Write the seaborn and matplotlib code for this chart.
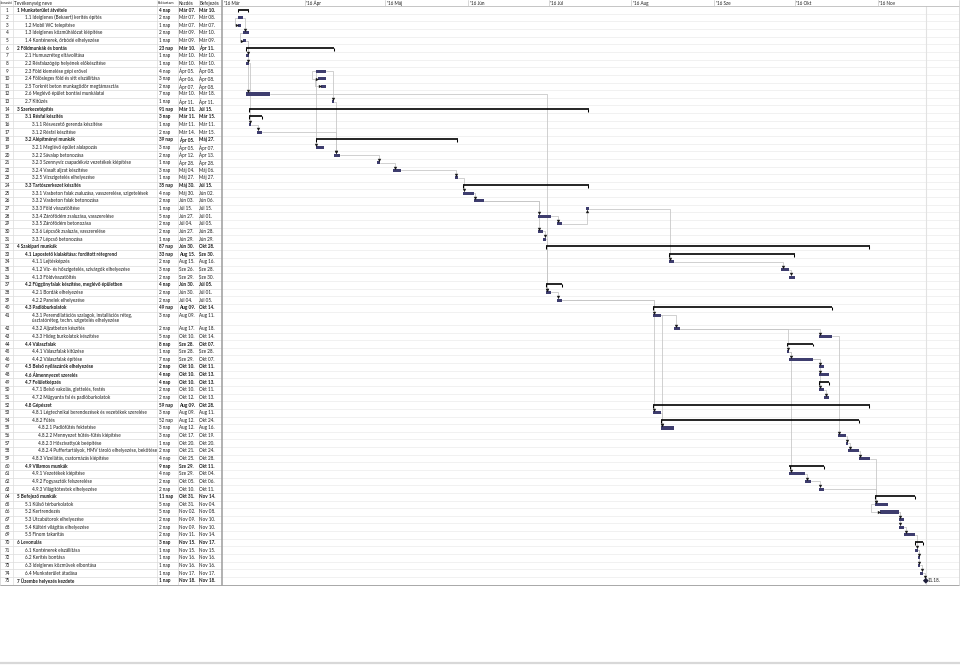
import matplotlib
matplotlib.use("Agg")
import matplotlib.pyplot as plt
import matplotlib.dates as mdates
import numpy as np
import pandas as pd
import seaborn as sns

sns.set_theme(style="white")
plt.rcParams['font.family'] = ['Lato', 'DejaVu Sans']

# ------------------------------------------------------------------ data
task_ids = list(range(1, 76))
task_names = [
    "1 Munkaterület átvétele",
    "1.1 Ideiglenes (Bekaert) kerítés építés",
    "1.2 Mobil WC telepítése",
    "1.3 Ideiglenes közműhálózat kiépítése",
    "1.4 Konténerek, őrbódé elhelyezése",
    "2 Földmunkák és bontás",
    "2.1 Humuszréteg eltávolítása",
    "2.2 Résfalazógép helyének előkészítése",
    "2.3 Föld kiemelése gépi erővel",
    "2.4 Fölösleges föld és sitt elszállítása",
    "2.5 Torkrét beton munkagödör megtámasztás",
    "2.6 Meglévő épület bontási munkálatai",
    "2.7 Kitűzés",
    "3 Szerkezetépítés",
    "3.1 Résfal készítés",
    "3.1.1 Résvezető gerenda készítése",
    "3.1.2 Résfal készítése",
    "3.2 Alépítményi munkák",
    "3.2.1 Meglévő épület alalapozás",
    "3.2.2 Sávalap betonozása",
    "3.2.3 Szennyvíz csapadékvíz vezetékek kiépítése",
    "3.2.4 Vasalt aljzat készítése",
    "3.2.5 Vízszigetelés elhelyezése",
    "3.3 Tartószerkezet készítés",
    "3.3.1 Vasbeton falak zsaluzása, vasszerelése, szigetelések",
    "3.3.2 Vasbeton falak betonozása",
    "3.3.3 Föld visszatöltése",
    "3.3.4 Zárófödém zsaluzása, vasszerelése",
    "3.3.5 Zárófödém betonozása",
    "3.3.6 Lépcsők zsaluzás, vasszerelése",
    "3.3.7 Lépcső betonozása",
    "4 Szakipari munkák",
    "4.1 Lapostető kialakítása: fordított rétegrend",
    "4.1.1 Lejtésképzés",
    "4.1.2 Víz- és hőszigetelés, szivárgók elhelyezése",
    "4.1.3 Földvisszatöltés",
    "4.2 Függönyfalak készítése, meglévő épületben",
    "4.2.1 Bordák elhelyezése",
    "4.2.2 Panelek elhelyezése",
    "4.3 Padlóburkolatok",
    "4.3.1 Peremdilatációs szalagok, installációs réteg,\núsztatóréteg, techn. szigetelés elhelyezése",
    "4.3.2 Aljzatbeton készítés",
    "4.3.3 Hideg burkolatok készítése",
    "4.4 Válaszfalak",
    "4.4.1 Válaszfalak kitűzése",
    "4.4.2 Válaszfalak építése",
    "4.5 Belső nyílászárók elhelyezése",
    "4.6 Álmennyezet szerelés",
    "4.7 Felületképzés",
    "4.7.1 Belső vakolás, glettelés, festés",
    "4.7.2 Műgyanta fal és padlóburkolatok",
    "4.8 Gépészet",
    "4.8.1 Légtechnikai berendezések és vezetékek szerelése",
    "4.8.2 Fűtés",
    "4.8.2.1 Padlófűtés fektetése",
    "4.8.2.2 Mennyezet hűtés-fűtés kiépítése",
    "4.8.2.3 Hőszivattyúk beépítése",
    "4.8.2.4 Puffertartályok, HMV tároló elhelyezése, bekötése",
    "4.8.3 Vízellátás, csatornázás kiépítése",
    "4.9 Villamos munkák",
    "4.9.1 Vezetékek kiépítése",
    "4.9.2 Fogyasztók felszerelése",
    "4.9.3 Világítótestek elhelyezése",
    "5 Befejező munkák",
    "5.1 Külső térburkolatok",
    "5.2 Kertrendezés",
    "5.3 Utcabútorok elhelyezése",
    "5.4 Kültéri világítás elhelyezése",
    "5.5 Finom takarítás",
    "6 Levonulás",
    "6.1 Konténerek elszállítása",
    "6.2 Kerítés bontása",
    "6.3 Ideiglenes közművek elbontása",
    "6.4 Munkaterület átadása",
    "7 Üzembe helyezés kezdete",
]
task_levels = [0, 1, 1, 1, 1, 0, 1, 1, 1, 1, 1, 1, 1, 0, 1, 2, 2, 1, 2, 2,
               2, 2, 2, 1, 2, 2, 2, 2, 2, 2, 2, 0, 1, 2, 2, 2, 1, 2, 2, 1,
               2, 2, 2, 1, 2, 2, 1, 1, 1, 2, 2, 1, 2, 2, 3, 3, 3, 3, 2, 1,
               2, 2, 2, 0, 1, 1, 1, 1, 1, 0, 1, 1, 1, 1, 0]
durations_days = [4, 2, 1, 2, 1, 23, 1, 1, 4, 3, 2, 7, 1, 91, 3, 1, 2, 39, 3, 2,
                  1, 3, 1, 35, 4, 2, 1, 5, 2, 2, 1, 87, 33, 2, 3, 2, 4, 2, 2, 49,
                  3, 2, 5, 8, 1, 7, 2, 4, 4, 2, 2, 59, 3, 52, 3, 3, 1, 2, 4, 9,
                  4, 2, 2, 11, 5, 5, 2, 2, 2, 3, 1, 1, 1, 1, 1]
start_dates = [
    "03-07", "03-07", "03-07", "03-09", "03-09", "03-10", "03-10", "03-10", "04-05", "04-06",
    "04-07", "03-10", "04-11", "03-11", "03-11", "03-11", "03-14", "04-05", "04-05", "04-12",
    "04-28", "05-04", "05-27", "05-30", "05-30", "06-03", "07-15", "06-27", "07-04", "06-27",
    "06-29", "06-30", "08-15", "08-15", "09-26", "09-29", "06-30", "06-30", "07-04", "08-09",
    "08-09", "08-17", "10-10", "09-28", "09-28", "09-29", "10-10", "10-10", "10-10", "10-10",
    "10-12", "08-09", "08-09", "08-12", "08-12", "10-17", "10-20", "10-21", "10-25", "09-29",
    "09-29", "10-05", "10-10", "10-31", "10-31", "11-02", "11-09", "11-09", "11-11", "11-15",
    "11-15", "11-16", "11-16", "11-17", "11-18"]
end_dates = [
    "03-10", "03-08", "03-07", "03-10", "03-09", "04-11", "03-10", "03-10", "04-08", "04-08",
    "04-08", "03-18", "04-11", "07-15", "03-15", "03-11", "03-15", "05-27", "04-07", "04-13",
    "04-28", "05-06", "05-27", "07-15", "06-02", "06-06", "07-15", "07-01", "07-05", "06-28",
    "06-29", "10-28", "09-30", "08-16", "09-28", "09-30", "07-05", "07-01", "07-05", "10-14",
    "08-11", "08-18", "10-14", "10-07", "09-28", "10-07", "10-11", "10-13", "10-13", "10-11",
    "10-13", "10-28", "08-11", "10-24", "08-16", "10-19", "10-20", "10-24", "10-28", "10-11",
    "10-04", "10-06", "10-11", "11-14", "11-04", "11-08", "11-10", "11-10", "11-14", "11-17",
    "11-15", "11-16", "11-16", "11-17", "11-18"]
year = 2016
bold_tasks = [1, 6, 14, 15, 18, 24, 32, 33, 37, 40, 44, 47, 48, 49, 52, 60, 64, 70, 75]
summary_tasks = [1, 6, 14, 15, 18, 24, 32, 33, 37, 40, 44, 49, 52, 54, 60, 64, 70]
milestone_tasks = [75]
double_row_tasks = [41]

fs_links = [(2, 4), (5, 7), (5, 8), (5, 12), (8, 16), (16, 17), (17, 20), (9, 13),
            (13, 20), (20, 21), (21, 22), (22, 23), (23, 25), (25, 26), (26, 28),
            (26, 30), (30, 31), (28, 29), (29, 27), (12, 38), (31, 38), (38, 39),
            (27, 34), (34, 35), (35, 36), (39, 41), (39, 53), (41, 42), (41, 55),
            (53, 55), (42, 43), (42, 45), (45, 46), (45, 61), (61, 62), (62, 63),
            (46, 47), (46, 48), (46, 50), (50, 51), (43, 56), (56, 57), (57, 58),
            (58, 59), (59, 65), (63, 65), (66, 67), (66, 68), (68, 69), (69, 71),
            (71, 72), (71, 73), (73, 74), (74, 75)]
ss_links = [(2, 3), (4, 5), (9, 10), (10, 11), (65, 66)]
ss_drop_links = [(9, 19)]

month_starts = ["2016-03-01", "2016-04-01", "2016-05-01", "2016-06-01", "2016-07-01",
                "2016-08-01", "2016-09-01", "2016-10-01", "2016-11-01"]
month_labels = ["'16 Már", "'16 Ápr", "'16 Máj", "'16 Jún", "'16 Júl",
                "'16 Aug", "'16 Sze", "'16 Okt", "'16 Nov"]
hu_month_abbr = ["Jan", "Feb", "Már", "Ápr", "Máj", "Jún", "Júl", "Aug", "Sze", "Okt", "Nov", "Dec"]
header_labels = ["Azonosító", "Tevékenység neve", "Időtartam", "Kezdés", "Befejezés"]
duration_unit = "nap"

# ------------------------------------------------------------------ frame
df = pd.DataFrame({
    "id": task_ids, "name": task_names, "level": task_levels, "dur": durations_days,
    "start": pd.to_datetime([f"{year}-{d}" for d in start_dates]),
    "end": pd.to_datetime([f"{year}-{d}" for d in end_dates]),
})
df["start_num"] = mdates.date2num(df["start"])
df["finish_num"] = mdates.date2num(df["end"]) + 1.0
df["start_lbl"] = [f"{hu_month_abbr[d.month - 1]} {d.day:02d}." for d in df["start"]]
df["end_lbl"] = [f"{hu_month_abbr[d.month - 1]} {d.day:02d}." for d in df["end"]]
df["dur_lbl"] = [f"{d} {duration_unit}" for d in df["dur"]]
heights = np.array([1.75 if i in double_row_tasks else 1.0 for i in task_ids])
df["top"] = np.concatenate([[0.0], np.cumsum(heights)[:-1]])
df["y"] = df["top"] + 0.5
df = df.set_index("id", drop=False)
total_rows = heights.sum()

W, H = 960, 665
HEAD, BOT = 6.2, 584.5
TABLE_R = 222
PPD = 2.676
fig = plt.figure(figsize=(9.6, 6.65), dpi=100)
fig.patch.set_facecolor("white")


def pax(x0, y0, x1, y1, **kw):
    ax = fig.add_axes([x0 / W, 1 - y1 / H, (x1 - x0) / W, (y1 - y0) / H], **kw)
    ax.set_axis_off()
    return ax


TXT = "#1a1a1a"
FSZ = 3.3
BAR = "#3e3d6e"
LINK = "#c4c4c4"
ARW = "#1a1a1a"

# ------------------------------------------------------------------ gantt axes
gantt = pax(TABLE_R, HEAD, W, BOT)
day0 = mdates.date2num(pd.Timestamp(month_starts[0]))
gantt.set_xlim(day0 - 0.015, day0 - 0.015 + (W - TABLE_R) / PPD)
gantt.set_ylim(total_rows, 0)
for t in list(df["top"].values[1:]) + [total_rows]:
    gantt.axhline(t, color="#ececec", lw=0.5, zorder=0)
finish_line = df["finish_num"].max()
gantt.axvline(finish_line, color="#e2e2e2", lw=0.8, zorder=0)

px = 1.0 / PPD  # one pixel in days
BH = 0.4


def bar_top(tid):
    return df.loc[tid, "y"] - (0.32 if tid in milestone_tasks else BH / 2)


for p, s in fs_links:
    pe, py = df.loc[p, "finish_num"], df.loc[p, "y"]
    ss_, sy = df.loc[s, "start_num"], df.loc[s, "y"]
    if ss_ >= pe - 0.01 or s in milestone_tasks:
        dx = max(ss_, pe) + 1.4 * px if s in milestone_tasks else ss_ + 1.4 * px
        if sy > py:
            yend = bar_top(s) - 0.16
            mk = "v"
        else:
            yend = sy + BH / 2 + 0.16
            mk = "^"
        gantt.plot([pe, dx, dx], [py, py, yend], color=LINK, lw=0.55, zorder=1)
        gantt.plot([dx], [yend], marker=mk, ms=2.4, color=ARW, mew=0, zorder=4)
    else:
        x1 = pe + 2 * px
        x2 = ss_ - 3.5 * px
        yb = df.loc[s, "top"]
        gantt.plot([pe, x1, x1, x2, x2, ss_ - 1.2 * px], [py, py, yb, yb, sy, sy],
                   color=LINK, lw=0.55, zorder=1)
        gantt.plot([ss_ - 1.1 * px], [sy], marker=">", ms=2.4, color=ARW, mew=0, zorder=4)

for p, s in ss_links:
    ps, py = df.loc[p, "start_num"], df.loc[p, "y"]
    ss_, sy = df.loc[s, "start_num"], df.loc[s, "y"]
    x1 = ps - 3.5 * px
    gantt.plot([ps, x1, x1, ss_ - 1.2 * px], [py, py, sy, sy], color=LINK, lw=0.55, zorder=1)
    gantt.plot([ss_ - 1.1 * px], [sy], marker=">", ms=2.4, color=ARW, mew=0, zorder=4)

for p, s in ss_drop_links:
    ps, py = df.loc[p, "start_num"], df.loc[p, "y"]
    dx = df.loc[s, "start_num"] + 0.3 * px
    yend = bar_top(s) - 0.16
    gantt.plot([dx, dx], [py, yend], color=LINK, lw=0.55, zorder=1)
    gantt.plot([dx], [yend], marker="v", ms=2.4, color=ARW, mew=0, zorder=4)

tasks = df[~df["id"].isin(summary_tasks + milestone_tasks)]
gantt.barh(tasks["y"], tasks["finish_num"] - tasks["start_num"], left=tasks["start_num"],
           height=BH, color=BAR, edgecolor="none", zorder=3)

summ = df[df["id"].isin(summary_tasks)]
for _, r in summ.iterrows():
    y = r["y"] - 0.06
    gantt.plot([r["start_num"], r["finish_num"]], [y, y], color="black", lw=1.2,
               solid_capstyle="butt", zorder=3)
    for xx in (r["start_num"] + 0.35 * px, r["finish_num"] - 0.35 * px):
        gantt.plot([xx, xx], [y, y + 0.38], color="black", lw=0.75, solid_capstyle="butt", zorder=3)

ms = df[df["id"].isin(milestone_tasks)]
sns.scatterplot(x=ms["finish_num"], y=ms["y"], marker="D", s=9, color="#1d1d3a",
                edgecolor="none", ax=gantt, zorder=5, legend=False)
for _, r in ms.iterrows():
    gantt.text(r["finish_num"] + 2.2 * px, r["y"], r["end"].strftime("%m.%d."),
               fontsize=FSZ, color=TXT, va="center", ha="left")
gantt.set_axis_off()

# ------------------------------------------------------------------ month header
mh = pax(TABLE_R, 0, W, HEAD)
mh.set_xlim(gantt.get_xlim())
mh.set_ylim(1, 0)
for d, lab in zip(month_starts, month_labels):
    xm = mdates.date2num(pd.Timestamp(d))
    mh.plot([xm, xm], [0, 1], color="#c8c8c8", lw=0.5)
    mh.text(xm + 1.5 * px, 0.5, lab, fontsize=FSZ, color=TXT, va="center", ha="left")

# ------------------------------------------------------------------ table
tab = pax(0, HEAD, TABLE_R, BOT)
tab.set_xlim(0, TABLE_R)
tab.set_ylim(total_rows, 0)
nam = pax(13.3, HEAD, 157, BOT)
nam.set_xlim(13.3, 157)
nam.set_ylim(total_rows, 0)
indent = [17.3, 25.3, 31.8, 38.3]
for t in list(df["top"].values[1:]) + [total_rows]:
    tab.plot([0, TABLE_R], [t, t], color="#dcdcdc", lw=0.5, zorder=0)
for xv in (13.3, 157, 178, 198.5):
    tab.plot([xv, xv], [0, total_rows], color="#dcdcdc", lw=0.5, zorder=0)
for _, r in df.iterrows():
    fw = "bold" if r["id"] in bold_tasks else "normal"
    y = r["y"]
    tab.text(7.3, y, str(r["id"]), ha="center", va="center", fontsize=FSZ, color=TXT)
    lines = r["name"].split("\n")
    for k, ln in enumerate(lines):
        nam.text(indent[r["level"]], y + k * 0.66, ln, ha="left", va="center", fontsize=FSZ,
                 color=TXT, fontweight=fw, clip_on=True)
    tab.text(158.8, y, r["dur_lbl"], ha="left", va="center", fontsize=FSZ, color=TXT, fontweight=fw)
    tab.text(179.2, y, r["start_lbl"], ha="left", va="center", fontsize=FSZ, color=TXT, fontweight=fw)
    tab.text(199.4, y, r["end_lbl"], ha="left", va="center", fontsize=FSZ, color=TXT, fontweight=fw)

# ------------------------------------------------------------------ table header
hd = pax(0, 0, TABLE_R, HEAD)
hd.set_xlim(0, TABLE_R)
hd.set_ylim(1, 0)
hx = [0.3, 14.3, 157.6, 178.6, 199.2]
hs = [2.05, FSZ, 2.8, FSZ, FSZ]
for x, lab, fs in zip(hx, header_labels, hs):
    hd.text(x, 0.5, lab, ha="left", va="center", fontsize=fs, color=TXT)
for xv in (13.3, 157, 178, 198.5):
    hd.plot([xv, xv], [0, 1], color="#dcdcdc", lw=0.5)

# ------------------------------------------------------------------ frame lines
over = fig.add_axes([0, 0, 1, 1])
over.set_axis_off()
over.set_xlim(0, W)
over.set_ylim(H, 0)
over.plot([0, W], [HEAD, HEAD], color="#bcbcbc", lw=0.6)
over.plot([0, W], [BOT, BOT], color="#a8a8a8", lw=0.7)
over.plot([TABLE_R, TABLE_R], [0, BOT], color="#9c9c9c", lw=1.1)
over.plot([0.4, 0.4], [0, BOT], color="#d0d0d0", lw=0.5)
over.plot([W - 0.6, W - 0.6], [0, BOT], color="#d6d6d6", lw=0.6)
over.plot([0, W], [H - 1.6, H - 1.6], color="#d8d8d8", lw=1.6)

fig.savefig("out.png", dpi=100, facecolor="white")
